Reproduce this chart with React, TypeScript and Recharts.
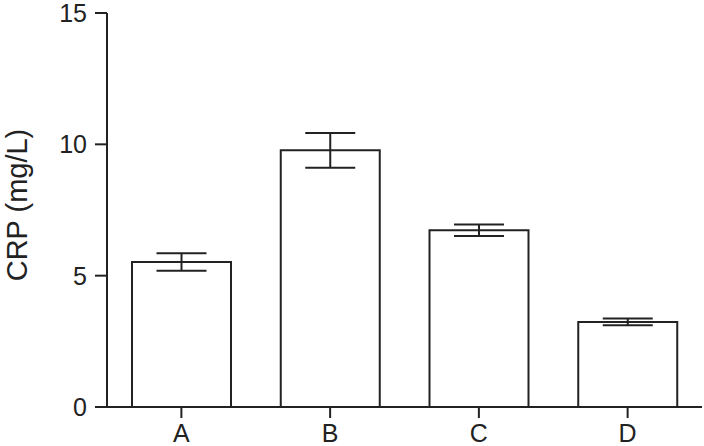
import { BarChart, Bar, XAxis, YAxis, ErrorBar, Label } from "recharts";

const groups = ["A", "B", "C", "D"];
const crpMeans = [5.52, 9.77, 6.73, 3.24];
const crpErrors = [0.33, 0.66, 0.22, 0.13];
const yTicks = [0, 5, 10, 15];

const data = groups.map((g, i) => ({ group: g, crp: crpMeans[i], err: crpErrors[i] }));

const INK = "#222";
const FONT = "Arial, 'Liberation Sans', Helvetica, sans-serif";

export default function App() {
  return (
    <div style={{ position: "absolute", left: 0, top: 0, background: "#fff" }}>
      <BarChart
        width={704}
        height={446}
        data={data}
        margin={{ top: 13, right: 2, bottom: 0, left: 0 }}
        barSize={99}
      >
        <XAxis
          dataKey="group"
          height={39}
          tickSize={11}
          tickMargin={6}
          axisLine={{ stroke: INK, strokeWidth: 2 }}
          tickLine={{ stroke: INK, strokeWidth: 2 }}
          tick={{ fill: INK, fontSize: 25, fontFamily: FONT }}
        />
        <YAxis
          width={107}
          domain={[0, 15]}
          ticks={yTicks}
          interval={0}
          tickSize={12}
          tickMargin={8}
          axisLine={{ stroke: INK, strokeWidth: 2 }}
          tickLine={{ stroke: INK, strokeWidth: 2 }}
          tick={{ fill: INK, fontSize: 25, fontFamily: FONT }}
        >
          <Label
            value="CRP (mg/L)"
            angle={-90}
            position="insideLeft"
            offset={17}
            dy={-5}
            style={{ textAnchor: "middle", fill: INK, fontSize: 29, fontFamily: FONT }}
          />
        </YAxis>
        <Bar dataKey="crp" fill="#fff" stroke={INK} strokeWidth={2} isAnimationActive={false}>
          <ErrorBar dataKey="err" width={25} stroke={INK} strokeWidth={2} />
        </Bar>
      </BarChart>
    </div>
  );
}
